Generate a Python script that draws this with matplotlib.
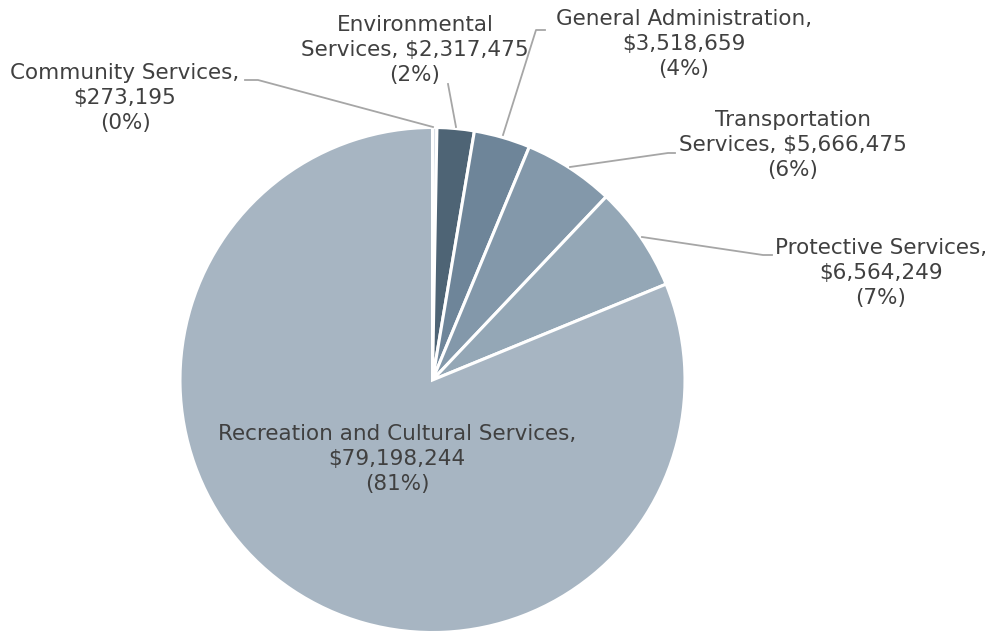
import matplotlib
matplotlib.use("Agg")
import matplotlib.pyplot as plt

# Expenditure by service area
categories = [
    "Community Services",
    "Environmental\nServices",
    "General Administration",
    "Transportation\nServices",
    "Protective Services",
    "Recreation and Cultural Services",
]
values = [273195, 2317475, 3518659, 5666475, 6564249, 79198244]
colors = ["#d8e0e8", "#4e6475", "#6e8599", "#8398aa", "#94a7b6", "#a7b5c2"]

# Label placement (pixel coordinates, y measured from the top)
label_xy = [(125, 98), (415, 50), (684, 44), (793, 145), (881, 273), (397, 459)]
same_line_value = [False, True, False, True, False, False]
leaders = [
    [(245, 80), (258, 80), (433, 127)],
    [(448, 84), (456, 127)],
    [(545, 30), (536, 30), (503, 135)],
    [(675, 153), (668, 153), (570, 167)],
    [(772, 255), (763, 255), (642, 237)],
    None,
]

W, H = 992, 633
fig = plt.figure(figsize=(W / 100, H / 100), dpi=100)
ax = fig.add_axes([0, 0, 1, 1])

cx, cy, r = 432.5, 380, 252.5
ax.pie(values, colors=colors, startangle=90, counterclock=False,
       center=(cx, H - cy), radius=r, frame=True,
       wedgeprops=dict(edgecolor="white", linewidth=2.2))
ax.set_xlim(0, W)
ax.set_ylim(0, H)
ax.set_aspect("equal")
ax.axis("off")

total = sum(values)
for name, v, (lx, ly), same, lead in zip(categories, values, label_xy,
                                         same_line_value, leaders):
    pct = round(100 * v / total)
    sep = " " if same else "\n"
    txt = f"{name},{sep}${v:,}\n({pct}%)"
    ax.text(lx, H - ly, txt, ha="center", va="center", fontsize=15.5,
            color="#404040", family="DejaVu Sans", linespacing=1.3)
    if lead:
        xs = [p[0] for p in lead]
        ys = [H - p[1] for p in lead]
        ax.plot(xs, ys, color="#a6a6a6", linewidth=1.3)

fig.savefig("out.png", dpi=100, facecolor="white")
